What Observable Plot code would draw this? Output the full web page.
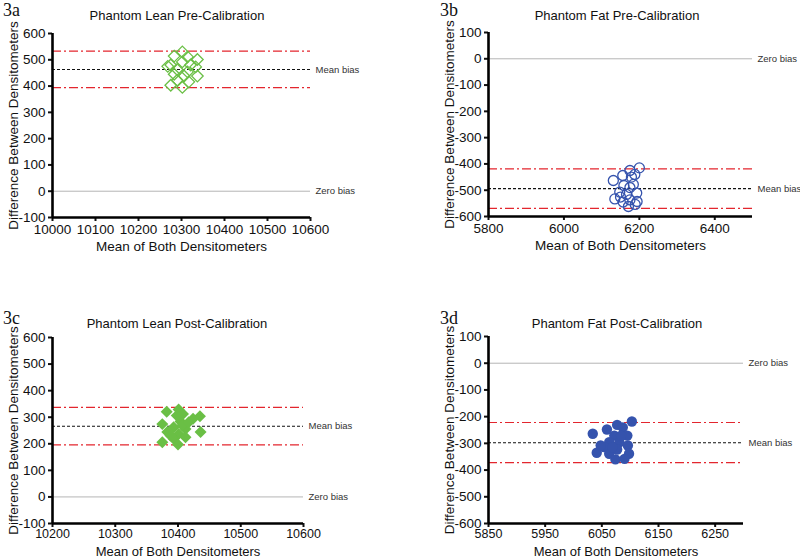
<!DOCTYPE html>
<html>
<head>
<meta charset="utf-8">
<script src="https://cdn.jsdelivr.net/npm/d3@7"></script>
<script src="https://cdn.jsdelivr.net/npm/@observablehq/plot@0.6"></script>
<style>
  body { margin: 0; background: #fff; }
  #root { position: relative; width: 800px; height: 559px; background: #fff; overflow: hidden; font-family: "Liberation Sans", Arial, sans-serif; }
  .panel { position: absolute; }
  .ptitle { position: absolute; font-size: 13px; color: #111; white-space: nowrap; transform: translateX(-50%); line-height: 1; }
  .plabel { position: absolute; font-family: "Liberation Serif", "DejaVu Serif", serif; font-size: 18px; color: #111; line-height: 1; }
</style>
</head>
<body>
<div id="root"></div>
<script>
// ---------- Data ----------
const panelNames = ["3a", "3b", "3c", "3d"];
const panelTitles = ["Phantom Lean Pre-Calibration", "Phantom Fat Pre-Calibration", "Phantom Lean Post-Calibration", "Phantom Fat Post-Calibration"];
const xAxisLabel = "Mean of Both Densitometers";
const yAxisLabel = "Difference Between Densitometers";

// 3a Phantom Lean Pre-Calibration
const leanPreMean = [10302, 10283, 10314, 10337, 10302, 10275, 10321, 10290, 10314, 10283, 10306, 10337, 10290, 10317, 10275, 10302, 10333, 10268];
const leanPreDiff = [530, 514, 511, 501, 492, 480, 480, 463, 454, 445, 438, 438, 422, 416, 403, 395, 473, 475];
const leanPreBias = [463, 533, 394]; // mean bias, upper LoA, lower LoA

// 3b Phantom Fat Pre-Calibration
const fatPreMean = [6200, 6175, 6156, 6188, 6131, 6159, 6184, 6148, 6193, 6166, 6135, 6150, 6175, 6157, 6194, 6171, 6189, 6179, 6175];
const fatPreDiff = [-415, -425, -444, -440, -463, -482, -478, -507, -511, -516, -533, -526, -537, -545, -543, -562, -554, -450, -490];
const fatPreBias = [-494, -419, -569];

// 3c Phantom Lean Post-Calibration
const leanPostMean = [10382, 10401, 10408, 10435, 10424, 10375, 10404, 10393, 10412, 10383, 10401, 10436, 10412, 10393, 10375, 10400, 10388, 10407, 10417, 10398];
const leanPostDiff = [321, 329, 312, 304, 294, 274, 284, 262, 256, 244, 237, 244, 225, 219, 206, 197, 231, 269, 281, 306];
const leanPostBias = [266, 337, 196];

// 3d Phantom Fat Post-Calibration
const fatPostMean = [6103, 6034, 6059, 6077, 6087, 6072, 6095, 6063, 6081, 6096, 6054, 6041, 6063, 6077, 6098, 6074, 6090, 6069, 6084, 6048];
const fatPostDiff = [-218, -264, -248, -231, -240, -271, -271, -296, -296, -308, -314, -335, -339, -323, -339, -360, -358, -314, -271, -308];
const fatPostBias = [-298, -222, -372];

// Axis ticks
const xTicksA = [10000, 10100, 10200, 10300, 10400, 10500, 10600];
const xTicksB = [5800, 6000, 6200, 6400];
const xTicksC = [10200, 10300, 10400, 10500, 10600];
const xTicksD = [5850, 5950, 6050, 6150, 6250];
const yTicksLean = [-100, 0, 100, 200, 300, 400, 500, 600];
const yTicksFat = [-600, -500, -400, -300, -200, -100, 0, 100];

const greenColor = "#6abf45";
const blueColor = "#3553ad";

// ---------- Layout config ----------
const panels = [
  { name: panelNames[0], title: panelTitles[0], xs: leanPreMean, ys: leanPreDiff, bias: leanPreBias,
    xDomain: [10000, 10600], yDomain: [-100, 600], xTicks: xTicksA, yTicks: yTicksLean,
    symbol: "diamond2", fill: "none", stroke: greenColor, r: 5.2,
    left: 0, top: 0, width: 400, height: 265, mL: 52, mR: 90, mT: 33, mB: 48,
    xLabelOffset: 33, xLabelFont: 13.5, xTickFont: 13.5, xTickPad: 3,
    titleX: 177, titleY: 9, labelX: 3, labelY: 1 },
  { name: panelNames[1], title: panelTitles[1], xs: fatPreMean, ys: fatPreDiff, bias: fatPreBias,
    xDomain: [5800, 6500], yDomain: [-600, 100], xTicks: xTicksB, yTicks: yTicksFat,
    symbol: "circle", fill: "none", stroke: blueColor, r: 5,
    left: 400, top: 0, width: 400, height: 265, mL: 88, mR: 48, mT: 32, mB: 49,
    xLabelOffset: 33, xLabelFont: 13.5, xTickFont: 13.5, xTickPad: 3,
    titleX: 617, titleY: 9, labelX: 440, labelY: 1 },
  { name: panelNames[2], title: panelTitles[2], xs: leanPostMean, ys: leanPostDiff, bias: leanPostBias,
    xDomain: [10200, 10600], yDomain: [-100, 600], xTicks: xTicksC, yTicks: yTicksLean,
    symbol: "diamond2", fill: greenColor, stroke: "none", r: 5.4,
    left: 0, top: 280, width: 400, height: 279, mL: 52, mR: 97, mT: 57, mB: 36,
    xLabelOffset: 32, xLabelFont: 13, xTickFont: 12.5, xTickPad: 2,
    titleX: 177, titleY: 317, labelX: 3, labelY: 309 },
  { name: panelNames[3], title: panelTitles[3], xs: fatPostMean, ys: fatPostDiff, bias: fatPostBias,
    xDomain: [5850, 6300], yDomain: [-600, 100], xTicks: xTicksD, yTicks: yTicksFat,
    symbol: "circle", fill: blueColor, stroke: "none", r: 5.2,
    left: 400, top: 280, width: 400, height: 279, mL: 88, mR: 57, mT: 56, mB: 36,
    xLabelOffset: 32, xLabelFont: 13, xTickFont: 12.5, xTickPad: 2,
    titleX: 617, titleY: 317, labelX: 440, labelY: 309 }
];

const root = document.getElementById("root");

for (const p of panels) {
  const pts = p.xs.map((x, i) => ({ x, y: p.ys[i] }));
  const [meanBias, upper, lower] = p.bias;
  const xMax = p.xDomain[1];
  const chart = Plot.plot({
    width: p.width,
    height: p.height,
    marginLeft: p.mL,
    marginRight: p.mR,
    marginTop: p.mT,
    marginBottom: p.mB,
    style: { fontFamily: "'Liberation Sans', Arial, sans-serif", fontSize: "13px", color: "#111", background: "transparent", overflow: "visible" },
    x: { domain: p.xDomain },
    y: { domain: p.yDomain },
    marks: [
      Plot.ruleY([0], { stroke: "#b5b5b5", strokeWidth: 1 }),
      Plot.ruleY([upper, lower], { stroke: "#e3262e", strokeWidth: 1.1, strokeDasharray: "9,3,2,3" }),
      Plot.ruleY([meanBias], { stroke: "#111", strokeWidth: 1.1, strokeDasharray: "3,2" }),
      Plot.text([{ y: 0, t: "Zero bias" }, { y: meanBias, t: "Mean bias" }], {
        x: () => xMax, y: "y", text: "t", textAnchor: "start", dx: 5, fontSize: 9.5, fill: "#333"
      }),
      Plot.dot(pts, { x: "x", y: "y", symbol: p.symbol, r: p.r, fill: p.fill, stroke: p.stroke, strokeWidth: 1.3 }),
      Plot.axisX({ ticks: p.xTicks, tickFormat: d => String(d), tickSize: 4, tickPadding: p.xTickPad, strokeWidth: 2,
        fontSize: p.xTickFont, label: null }),
      Plot.axisX({ ticks: [], label: xAxisLabel, labelAnchor: "center", labelArrow: "none",
        labelOffset: p.xLabelOffset, fontSize: p.xLabelFont, tickSize: 0 }),
      Plot.axisY({ ticks: p.yTicks, tickFormat: d => String(d), tickSize: 4, tickPadding: 3, strokeWidth: 2,
        label: yAxisLabel, labelAnchor: "center", labelArrow: "none", labelOffset: 44, fontSize: 13.5 }),
      Plot.ruleX([p.xDomain[0]], { stroke: "#000", strokeWidth: 2.6 }),
      Plot.ruleY([p.yDomain[0]], { stroke: "#000", strokeWidth: 2.6 })
    ]
  });
  const wrap = document.createElement("div");
  wrap.className = "panel";
  wrap.style.left = p.left + "px";
  wrap.style.top = p.top + "px";
  wrap.appendChild(chart);
  root.appendChild(wrap);

  const t = document.createElement("div");
  t.className = "ptitle";
  t.textContent = p.title;
  t.style.left = p.titleX + "px";
  t.style.top = p.titleY + "px";
  root.appendChild(t);

  const l = document.createElement("div");
  l.className = "plabel";
  l.textContent = p.name;
  l.style.left = p.labelX + "px";
  l.style.top = p.labelY + "px";
  root.appendChild(l);
}
</script>
</body>
</html>
